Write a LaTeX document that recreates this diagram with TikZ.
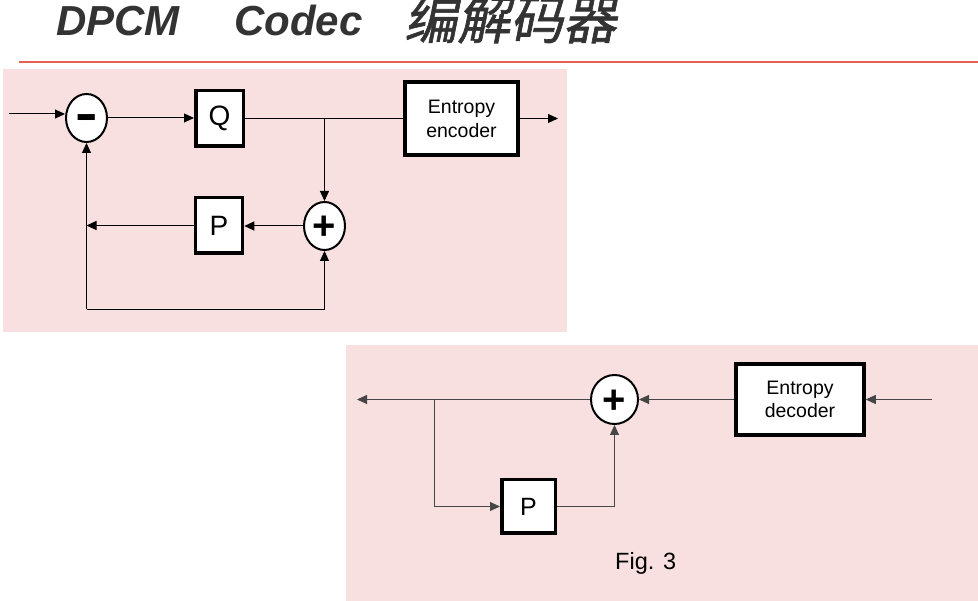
\documentclass[tikz,border=0pt]{standalone}
\usepackage{fontspec}
\setmainfont{Liberation Sans}
\newfontfamily\cjk[FakeSlant=0.2, FakeBold=1.2]{Noto Sans CJK SC}
\newfontfamily\widesym[FakeStretch=1.35]{Liberation Sans}
\usetikzlibrary{shapes.geometric, arrows.meta}

\definecolor{panelpink}{RGB}{248,224,224}
\definecolor{titlegray}{RGB}{51,51,51}
\definecolor{rulered}{RGB}{232,96,80}
\definecolor{wiregray}{RGB}{70,70,70}

\newcommand{\signmark}[2]{\raisebox{-#1}[0pt][0pt]{#2}}

\tikzset{
    titletext/.style={anchor=base west, inner sep=0pt, text=titlegray,
        font=\fontsize{42}{48}\selectfont\bfseries\itshape},
    blockbox/.style={draw, fill=white, line width=3.5pt, inner sep=0pt},
    sumnode/.style={draw, ellipse, fill=white, line width=2pt, inner sep=0pt,
        minimum width=41pt, minimum height=48pt,
        font=\fontsize{40}{40}\selectfont\bfseries},
    wire/.style={line width=1pt},
    arr/.style={line width=1pt, -{Triangle[length=10pt,width=9pt]}},
    darr/.style={arr, draw=wiregray},
}

\begin{document}
\begin{tikzpicture}[x=1pt, y=-1pt]

        \useasboundingbox (0,0) rectangle (978,601);

        % Title and rule
        \node[titletext] (ttl) at (56,36) {DPCM};
        \node[titletext] (ttlcodec) at (234,36) {Codec};
        \node[titletext, font=\fontsize{53}{56}\selectfont\cjk] (ttlcn) at (404,39) {编解码器};
        \draw[rulered, line width=2pt] (19,61.7) -- (978,61.7);

        % Panels
        \fill[panelpink] (3,69) rectangle (567,332);
        \fill[panelpink] (346,345) rectangle (978,601);

        % Encoder
        \coordinate (in) at (9,114);
        \node[sumnode, font=\fontsize{50}{50}\selectfont\bfseries\widesym] (sub) at (86.5,118) {\signmark{0.26em}{-}};
        \node[blockbox, minimum width=47.5pt, minimum height=55.5pt,
            font=\fontsize{28}{30}\selectfont] (quant) at (219.5,118.5) {Q};
        \node[blockbox, minimum width=113pt, minimum height=73pt, align=center,
            font=\fontsize{19.5}{24}\selectfont] (enc) at (461.5,118.5) {Entropy\\encoder};
        \coordinate (out) at (558,118.5);
        \node[sumnode] (add) at (324.5,226) {\signmark{0.34em}{+}};
        \node[blockbox, minimum width=47pt, minimum height=55.5pt,
            font=\fontsize{28}{30}\selectfont] (pred) at (219,225.5) {P};
        \coordinate (fb) at (86.5,309.3);

        \draw[arr] (in) -- (in -| sub.west);
        \draw[arr] (sub.east) -- (sub.east -| quant.west);
        \draw[wire] (quant.east) -- (enc.west);
        \draw[arr] (enc.east) -- (out);
        \draw[arr] (quant.east -| add) -- (add.north);
        \draw[arr] (add.west) -- (add.west -| pred.east);
        \draw[arr] (pred.west) -- (pred.west -| sub);
        \draw[arr] (fb) -- (sub.south);
        \draw[arr] (fb) -| (add.south);

        % Decoder
        \coordinate (din) at (932,399.5);
        \node[blockbox, minimum width=128pt, minimum height=71pt, align=center,
            font=\fontsize{19.5}{23.4}\selectfont] (dec) at (800,399.5) {Entropy\\decoder};
        \node[sumnode, minimum width=47pt, minimum height=49pt] (dadd) at (614.5,399.5) {\signmark{0.34em}{+}};
        \node[blockbox, minimum width=53.5pt, minimum height=53.5pt,
            font=\fontsize{25}{28}\selectfont] (dpred) at (528.5,506.5) {P};
        \coordinate (dout) at (357,399.5);
        \coordinate (split) at (434,399.5);

        \draw[darr] (din) -- (dec.east);
        \draw[darr] (dec.west) -- (dadd.east);
        \draw[darr] (dadd.west) -- (dout);
        \draw[darr] (split) |- (dpred.west);
        \draw[darr] (dpred.east) -| (dadd.south);

        % Caption
        \node[anchor=base west, inner sep=0pt, font=\fontsize{23.5}{26}\selectfont] (fig) at (615,569) {Fig. 3};

    \end{tikzpicture}
\end{document}
